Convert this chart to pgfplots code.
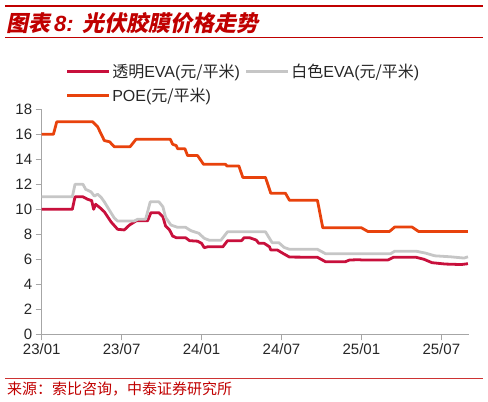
\documentclass[border=0pt]{standalone}
\usepackage{fontspec}
\setmainfont{Liberation Sans}
\newfontfamily\cjk{Noto Sans CJK SC}
\newfontfamily\cjktitle{Noto Sans CJK SC}[FakeSlant=0.2]
\usepackage{pgfplots}
\pgfplotsset{compat=1.18}
\definecolor{cred}{HTML}{C8103C}
\definecolor{cgray}{HTML}{C6C6C6}
\definecolor{corange}{HTML}{E8420C}
\definecolor{tred}{HTML}{C00000}
\definecolor{axgray}{HTML}{A6A6A6}
\begin{document}
\begin{tikzpicture}
\path[use as bounding box] (0,0) rectangle (488bp,-402bp);
% header
\draw[tred, line width=2.4bp] (5bp,-6bp) -- (482.7bp,-6bp);
\node[anchor=west, inner sep=0pt, text=tred, font=\fontsize{22bp}{26bp}\selectfont] at (6bp,-23bp)
  {{\cjktitle\bfseries 图表}\hspace{4bp}{\bfseries\itshape 8:}\hspace{9bp}{\cjktitle\bfseries 光伏胶膜价格走势}};
\draw[tred, line width=0.9bp] (5bp,-37bp) -- (482.7bp,-37bp);
% footer
\draw[tred!80, line width=0.8bp] (5bp,-378.3bp) -- (482.7bp,-378.3bp);
\node[anchor=west, inner sep=0pt, text=tred, font=\fontsize{15bp}{17bp}\selectfont\cjk] at (7bp,-389bp)
  {来源：索比咨询，中泰证券研究所};
\begin{axis}[
  at={(41.7bp,-334.3bp)}, anchor=south west,
  scale only axis, width=427.6bp, height=225bp,
  xmin=0, xmax=32.1, ymin=0, ymax=18,
  axis lines*=left,
  axis line style={axgray, line width=1.4bp},
  tick style={axgray, line width=1.2bp},
  major tick length=6bp,
  tick align=outside,
  xtick={0,6,12,18,24,30},
  xticklabels={23/01,23/07,24/01,24/07,25/01,25/07},
  ytick={0,2,...,18},
  /pgf/number format/assume math mode=true,
  ticklabel style={font=\fontsize{15bp}{18bp}\selectfont, text=black!85},
  clip=false,
  legend columns=2,
  legend cell align=left,
  legend style={at={(axis description cs:0.0561,1.212)}, anchor=north west, draw=none, fill=none,
    inner sep=0pt, row sep=5bp, font=\fontsize{16bp}{19bp}\selectfont, text=black!85,
    /tikz/every even column/.append style={column sep=3bp}},
  legend image code/.code={\draw[#1] (0bp,0bp) -- (41.6bp,0bp);},
  every axis plot/.append style={line width=2.8bp, line join=round, mark=none},
]
\addplot[cred] coordinates {
(0,10.0) (2.3,10.0) (2.5,11.0) (3.1,11.0) (3.45,10.8) (3.75,10.7) (3.9,10.0) (4.05,10.4) (4.35,10.15) (4.7,9.8) (5.2,9.0) (5.7,8.4) (6.2,8.35) (6.6,8.75) (7.1,9.08) (7.95,9.08) (8.2,9.73) (8.8,9.73) (9.1,9.4) (9.3,8.66) (9.6,8.34) (9.83,7.86) (10.1,7.73) (10.8,7.73) (11.1,7.49) (11.7,7.45) (12.0,7.28) (12.2,6.93) (12.45,7.0) (13.6,7.0) (13.95,7.49) (15.0,7.49) (15.2,7.73) (15.6,7.73) (16.1,7.54) (16.3,7.28) (16.7,7.28) (17.1,7.0) (17.2,6.74) (17.7,6.74) (18.1,6.48) (18.6,6.18) (20.7,6.16) (21.3,5.81) (22.8,5.81) (23.1,5.94) (23.8,5.97) (24.0,5.95) (26.0,5.95) (26.4,6.16) (28.1,6.16) (28.7,6.0) (29.3,5.73) (30.3,5.62) (31.5,5.58) (32.0,5.65)
};
\addlegendentry{{\cjk 透明}EVA({\cjk 元/平米})}
\addplot[cgray] coordinates {
(0,11.0) (2.3,11.0) (2.5,12.0) (3.1,12.0) (3.3,11.6) (3.7,11.4) (3.95,11.06) (4.2,11.2) (4.45,10.97) (4.7,10.6) (5.1,9.9) (5.45,9.3) (5.7,9.06) (6.95,9.06) (7.2,9.2) (7.8,9.2) (8.15,10.6) (8.8,10.6) (9.1,10.2) (9.3,9.36) (9.7,8.74) (10.2,8.56) (10.8,8.56) (11.2,8.29) (11.8,8.08) (12.2,7.68) (12.6,7.52) (13.45,7.52) (13.95,8.2) (16.8,8.2) (17.3,7.33) (17.8,7.33) (18.2,6.95) (18.6,6.8) (20.7,6.8) (21.3,6.45) (26.2,6.45) (26.5,6.65) (28.1,6.65) (28.8,6.5) (29.5,6.28) (30.7,6.2) (31.7,6.1) (32.0,6.2)
};
\addlegendentry{{\cjk 白色}EVA({\cjk 元/平米})}
\addplot[corange] coordinates {
(0,16.0) (0.88,16.0) (1.13,17.0) (3.83,17.0) (4.2,16.6) (4.7,15.5) (5.1,15.4) (5.45,15.0) (6.63,15.0) (7.08,15.6) (9.66,15.6) (9.83,15.2) (10.1,15.1) (10.2,14.85) (10.75,14.85) (10.95,14.3) (11.7,14.3) (12.15,13.6) (13.8,13.6) (13.9,13.47) (14.8,13.47) (15.1,12.55) (16.8,12.55) (17.2,11.28) (18.3,11.28) (18.6,10.72) (20.7,10.72) (21.1,8.52) (24.0,8.52) (24.5,8.22) (26.1,8.22) (26.5,8.58) (27.8,8.58) (28.3,8.22) (32.0,8.22)
};
\addlegendentry{POE({\cjk 元/平米})}
\end{axis}
\end{tikzpicture}
\end{document}
